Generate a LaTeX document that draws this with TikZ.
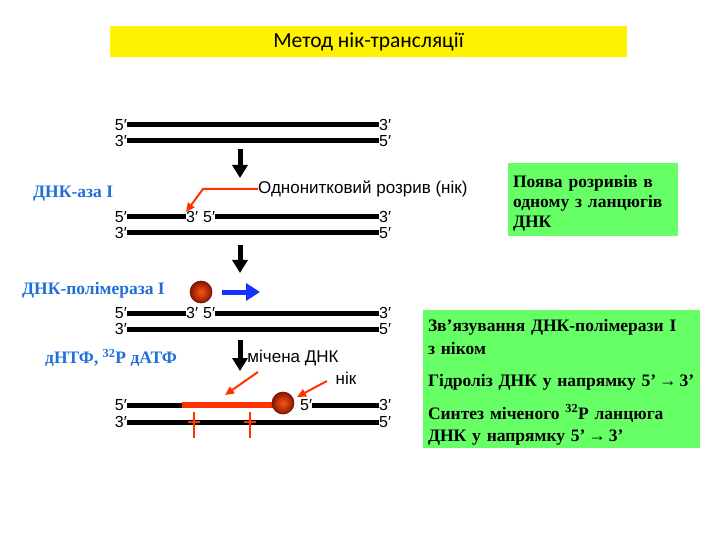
\documentclass[tikz,border=0pt]{standalone}
\usepackage{fontspec}
\setmainfont{Liberation Serif}
\newfontfamily\arialf{Liberation Sans}
\newfontfamily\titlef{Carlito}
\usetikzlibrary{arrows.meta,positioning}

\definecolor{nickred}{RGB}{255,51,0}
\definecolor{enzblue}{RGB}{31,111,217}
\definecolor{boxgreen}{RGB}{102,255,102}
\definecolor{runblue}{RGB}{20,50,255}
\definecolor{ballhi}{RGB}{245,90,20}
\definecolor{balllo}{RGB}{140,20,0}

\tikzset{
  >={Triangle},   % default arrow tip
  strand/.style={line width=5bp},
  endlbl/.style={font=\arialf\fontsize{16bp}{16bp}\selectfont, inner sep=0pt},
  txtlbl/.style={font=\arialf\fontsize{17bp}{17bp}\selectfont, inner sep=0pt},
  stepdown/.style={line width=5bp, -{Triangle[width=15bp,length=13bp]}},
  callout/.style={nickred, line width=2bp, -{Triangle[width=8bp,length=9bp]}},
  enzyme/.style={font=\bfseries\fontsize{17.5bp}{17.5bp}\selectfont, text=enzblue, inner sep=0pt, anchor=west},
  pol/.style={circle, minimum size=22bp, inner sep=0pt, inner color=ballhi, outer color=balllo, draw=balllo!70!black, line width=0.6bp},
  note/.style={inner sep=5bp, align=left, font=\bfseries\fontsize{17.5bp}{20bp}\selectfont}
}

\begin{document}
\begin{tikzpicture}[x=1bp,y=-1bp]
	\useasboundingbox (0,0) rectangle (720,540);

	% title
	\node[fill=yellow, minimum width=517bp, minimum height=31bp, inner sep=0pt,
	      font=\titlef\fontsize{21.5bp}{21.5bp}\selectfont] (title) at (368.5,41.5) {Метод нік-трансляції};

	% bottom strands
	\foreach \y/\n in {141/1,233/2,329/3,422/4}{
		\node[endlbl, anchor=east] (b3\n) at (127,\y) {3′};
		\node[endlbl, anchor=west] (b5\n) at (379,\y) {5′};
		\draw[strand] (b3\n.east) -- (b5\n.west);
	}

	% intact top strand
	\node[endlbl, anchor=east] (a5) at (127,125) {5′};
	\node[endlbl, anchor=west] (a3) at (379,125) {3′};
	\draw[strand] (a5.east) -- (a3.west);

	% nicked top strands
	\foreach \y/\n in {217/2,313/3}{
		\node[endlbl, anchor=east] (t5\n) at (127,\y) {5′};
		\node[endlbl, anchor=west] (n3\n) at (186,\y) {3′};
		\node[endlbl, anchor=west] (n5\n) at (203,\y) {5′};
		\node[endlbl, anchor=west] (t3\n) at (379,\y) {3′};
		\draw[strand] (t5\n.east) -- (n3\n.west);
		\draw[strand] (n5\n.east) -- (t3\n.west);
	}

	% steps
	\coordinate (s1a) at (240,149); \coordinate (s1b) at (240,178);
	\coordinate (s2a) at (240,245); \coordinate (s2b) at (240,273);
	\coordinate (s3a) at (240,340); \coordinate (s3b) at (240,371);
	\draw[stepdown] (s1a) -- (s1b);
	\draw[stepdown] (s2a) -- (s2b);
	\draw[stepdown] (s3a) -- (s3b);

	% nick
	\node[enzyme] (dnase) at (33,194) {ДНК-аза I};
	\node[txtlbl, anchor=west] (gap) at (258,189) {Однонитковий розрив (нік)};
	\coordinate (gapbend) at (203,189);
	\coordinate (gaptip) at (186,212);
	\draw[callout] (gap.west) -- (gapbend) -- (gaptip);

	% polymerase
	\node[enzyme] (poli) at (22,290) {ДНК-полімераза I};
	\node[pol] (ball1) at (201,292) {};
	\coordinate (run) at (260,292);
	\draw[runblue, line width=5bp, -{Triangle[width=17bp,length=14bp]}] ([xshift=10bp]ball1.east) -- (run);

	% labelled strand
	\node[enzyme] (dntp) at (45,358) {дНТФ, \textsuperscript{32}Р дАТФ};
	\node[endlbl, anchor=east] (t54) at (127,405) {5′};
	\node[endlbl, anchor=west] (n54) at (300,405) {5′};
	\node[endlbl, anchor=west] (t34) at (379,405) {3′};
	\coordinate (lab0) at (182,405);
	\coordinate (lab1) at (274,405);
	\draw[strand] (t54.east) -- (lab0);
	\draw[nickred, line width=6bp] (lab0) -- (lab1);
	\draw[strand] (n54.east) -- (t34.west);
	\node[pol] (ball2) at (283,403) {};

	\node[txtlbl] (label) at (293,358) {мічена ДНК};
	\node[txtlbl] (nik) at (346,378) {нік};
	\coordinate (c1a) at (258,372); \coordinate (c1b) at (225,395);
	\coordinate (c2a) at (327,381); \coordinate (c2b) at (297,397);
	\draw[callout] (c1a) -- (c1b);
	\draw[callout] (c2a) -- (c2b);

	% 32P marks
	\foreach \x in {194,250}{
		\draw[nickred, line width=2bp] (\x,412) -- (\x,438);
		\draw[nickred, line width=1.5bp] (\x-6,422) -- (\x+6,422);
	}

	% notes
	\fill[boxgreen] (508,163) rectangle (678,236);
	\fill[boxgreen] (423,310) rectangle (700,448);
	\node[note, text width=160bp] (note1) at (593,203)
		{Поява розривів в\\одному з ланцюгів\\ДНК};
	\node[note, text width=267bp, font=\bfseries\fontsize{17.5bp}{23bp}\selectfont] (note2) at (561.5,382)
		{Зв’язування ДНК-полімерази І\\з ніком\\[9bp]
		 Гідроліз ДНК у напрямку 5’\,→\,3’\\[10bp]
		 Синтез міченого \textsuperscript{32}Р ланцюга\\[-1bp]ДНК у напрямку 5’\,→\,3’};
\end{tikzpicture}
\end{document}
